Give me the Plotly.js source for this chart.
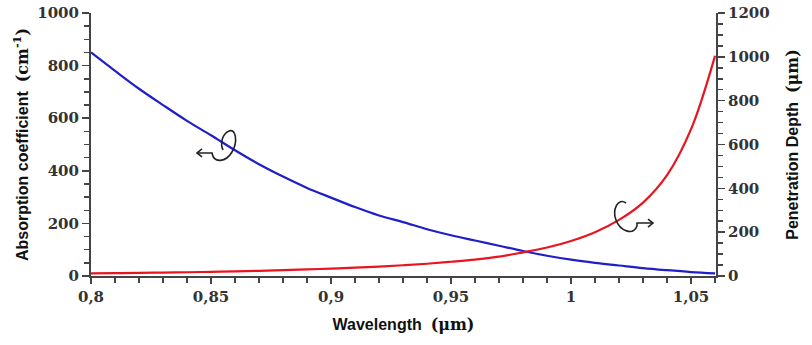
<!DOCTYPE html>
<html><head><meta charset="utf-8">
<script src="https://cdn.plot.ly/plotly-3.0.1.min.js"></script>
<style>html,body{margin:0;padding:0;background:#fff}#c{width:812px;height:345px}</style>
</head><body><div id="c"></div>
<script>
// Wavelength (µm)
const wavelength = [0.80,0.81,0.82,0.83,0.84,0.85,0.86,0.87,0.88,0.89,0.90,0.91,0.92,0.93,0.94,0.95,0.96,0.97,0.98,0.99,1.00,1.01,1.02,1.03,1.04,1.05,1.06];
// Absorption coefficient (cm^-1)
const absorption = [850,780,712,650,590,535,478,425,378,335,298,262,230,205,178,155,135,115,95,77,62,50,40,30,22,15,10];
// Penetration depth (µm)
const penetration = [12,13,14,15.5,17,19,21,23.5,26.5,30,34,38,43,49,56,65,75,88,108,130,160,200,256,335,460,670,1005];
const xTickVals = [0.8,0.85,0.9,0.95,1,1.05];

// plot area in pixels
const L=91, R=716, T=13, B=276;
function px(x,y){return ((x-L)/(R-L)).toFixed(4)+','+((B-y)/(B-T)).toFixed(4);}
function path(cmds){return cmds.map(c=>c[0]+' '+c.slice(1).reduce((a,v,i)=>i%2?a:a.concat([px(c[1+i],c[2+i])]),[]).join(' ')).join(' ');}

const arrowStyle = {color:'#222', width:1.6};
const shapes = [
  {type:'path', xref:'paper', yref:'paper', line:arrowStyle,
   path: path([['M',197,153],['L',212,153],['C',214,164,226,162,232,152],['C',238,142,236,128,229,131],['C',222,134,220,144,223,150]])},
  {type:'path', xref:'paper', yref:'paper', line:arrowStyle,
   path: path([['M',202,149],['L',197,153],['L',202,157]])},
  {type:'path', xref:'paper', yref:'paper', line:arrowStyle,
   path: path([['M',626,203],['C',618,197,612,210,616,220],['C',620,231,633,236,637,226],['L',637,223],['L',653,223]])},
  {type:'path', xref:'paper', yref:'paper', line:arrowStyle,
   path: path([['M',648,219],['L',653,223],['L',648,227]])}
];

const tickFont = {family:'DejaVu Serif, serif', size:15, color:'#333', weight:'bold'};
const titleFont = {family:'Liberation Sans, Arial, sans-serif', size:16, color:'#111', weight:'bold'};

const data = [
  {x:wavelength, y:absorption, type:'scatter', mode:'lines', line:{color:'#1f1fc8', width:2.2, shape:'spline'}, yaxis:'y', hoverinfo:'skip'},
  {x:wavelength, y:penetration, type:'scatter', mode:'lines', line:{color:'#e8141e', width:2.2, shape:'spline'}, yaxis:'y2', hoverinfo:'skip'}
];

const layout = {
  width:812, height:345,
  margin:{l:L, r:812-R, t:T, b:345-B, pad:0},
  paper_bgcolor:'#fff', plot_bgcolor:'#fff',
  showlegend:false,
  separators:', ',
  xaxis:{range:[0.8,1.0604], tickvals:xTickVals, ticks:'outside', ticklen:6, tickwidth:1.5, tickcolor:'#444',
    minor:{dtick:0.01, tick0:0.8, ticks:'outside', ticklen:5, tickwidth:1.5, tickcolor:'#444'},
    showline:true, linecolor:'#444', linewidth:2, showgrid:false, zeroline:false,
    tickfont:tickFont,
    title:{text:'Wavelength  <span style="font-family:DejaVu Serif">(μm)</span>', font:titleFont, standoff:14}},
  yaxis:{range:[0,1000], dtick:200, ticks:'outside', ticklen:7, tickwidth:1.5, tickcolor:'#444',
    minor:{dtick:50, ticks:'outside', ticklen:5, tickwidth:1.5, tickcolor:'#444'},
    showline:true, linecolor:'#444', linewidth:2, showgrid:false, zeroline:false,
    tickfont:tickFont,
    title:{text:'Absorption coefficient  <span style="font-family:DejaVu Serif">(cm<sup>-1</sup>)</span>', font:titleFont, standoff:5}},
  yaxis2:{range:[0,1200], dtick:200, overlaying:'y', side:'right', ticks:'outside', ticklen:7, tickwidth:1.5, tickcolor:'#444',
    minor:{dtick:50, ticks:'outside', ticklen:5, tickwidth:1.5, tickcolor:'#444'},
    showline:true, linecolor:'#444', linewidth:2, showgrid:false, zeroline:false,
    tickfont:tickFont,
    title:{text:'Penetration Depth  <span style="font-family:DejaVu Serif">(μm)</span>', font:titleFont, standoff:18}},
  shapes:shapes
};
Plotly.newPlot('c', data, layout, {staticPlot:true});
</script></body></html>
